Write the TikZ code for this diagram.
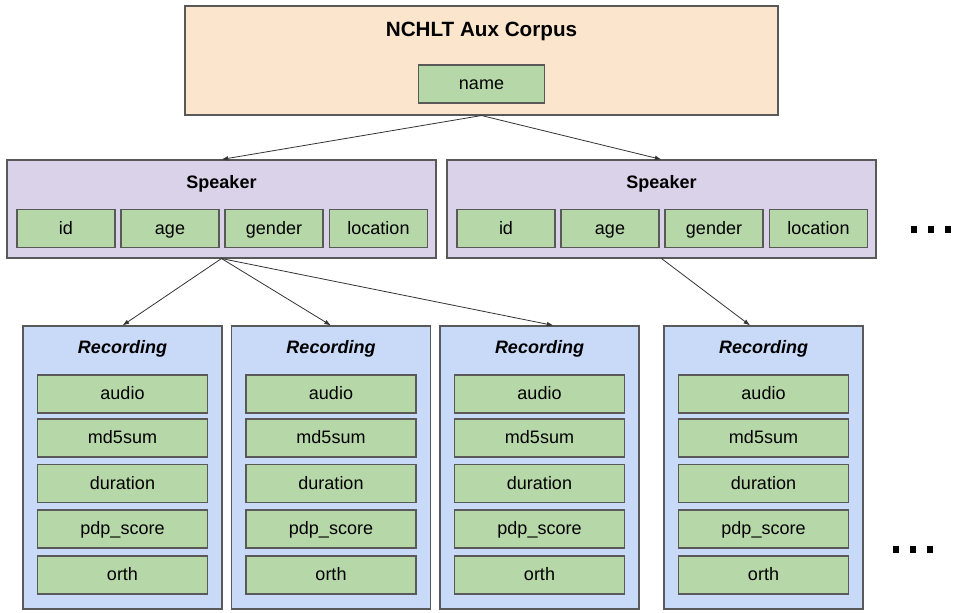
\documentclass[tikz,border=0pt]{standalone}
\usepackage{fontspec}
\setmainfont{Liberation Sans}
\usetikzlibrary{positioning,arrows.meta}
\definecolor{corpusfill}{HTML}{FCE5CD}
\definecolor{speakerfill}{HTML}{D9D2E9}
\definecolor{recfill}{HTML}{C9DAF8}
\definecolor{fieldfill}{HTML}{B6D7A8}
\definecolor{edgegray}{HTML}{595959}
\tikzset{>={Latex[length=5pt,width=3.5pt]}}
\tikzset{
  box/.style={draw=edgegray, line width=0.8pt, inner sep=0pt},
  corpus/.style={box, fill=corpusfill, minimum width=444.75pt, minimum height=81.75pt},
  speaker/.style={box, fill=speakerfill, minimum width=321.75pt, minimum height=73.5pt},
  recording/.style={box, fill=recfill, minimum width=149.25pt, minimum height=212.25pt},
  title/.style={font=\fontsize{13.5}{16}\selectfont\bfseries, text height=0.9em, text depth=0.05em},
  field/.style={box, fill=fieldfill, minimum height=28.5pt, font=\fontsize{13.5}{16}\selectfont,
    text height=0.9em, text depth=0.05em},
  dot/.style={fill=black, inner sep=0pt, minimum size=4.8pt},
  link/.style={->, draw=black!80, line width=0.6pt},
}

\begin{document}
\begin{tikzpicture}[x=0.75pt,y=-0.75pt]
  \useasboundingbox (0,0) rectangle (957,613);

  % Corpus
  \node[corpus] (corpus) at (481.5,60.5) {};
  \node[title, font=\fontsize{15.5}{18}\selectfont\bfseries] (corpustitle) at (481.5,31) {NCHLT Aux Corpus};
  \node[field, minimum width=95pt] (name) at (481.5,84) {name};

  % Speakers
  \foreach \s/\cx in {1/221.5, 2/661.5} {
    \node[speaker] (spk\s) at (\cx,209) {};
    \node[title] (spk\s-title) at (\cx,183) {Speaker};
    \node[field, minimum width=73.5pt] (spk\s-id)       at (\cx-155.5,228.5) {id};
    \node[field, minimum width=73.5pt] (spk\s-age)      at (\cx-51.5,228.5)  {age};
    \node[field, minimum width=73.5pt] (spk\s-gender)   at (\cx+52.5,228.5)  {gender};
    \node[field, minimum width=73.5pt] (spk\s-location) at (\cx+157,228.5)   {location};
  }

  % Recordings
  \foreach \r/\cx in {1/122.5, 2/331, 3/539.5, 4/763.5} {
    \node[recording] (rec\r) at (\cx,467.5) {};
    \node[title, font=\fontsize{13.5}{16}\selectfont\bfseries\itshape] (rec\r-title) at (\cx,348) {Recording};
    \foreach \f/\lab/\cy in {audio/audio/394, md5sum/md5sum/438, duration/duration/483.5,
                             pdp/pdp\_score/529, orth/orth/575} {
      \node[field, minimum width=127.5pt] (rec\r-\f) at (\cx,\cy) {\lab};
    }
  }

  % More
  \foreach \i/\x in {1/914, 2/931, 3/948}
    \node[dot] (more1-\i) at (\x,229.5) {};
  \foreach \i/\x in {1/896, 2/913, 3/930}
    \node[dot] (more2-\i) at (\x,549.5) {};

  % Edges
  \draw[link] (corpus.south) -- (spk1.north);
  \draw[link] (corpus.south) -- (spk2.north);
  \draw[link] (spk1.south) -- (rec1.north);
  \draw[link] (spk1.south) -- (rec2.north);
  \draw[link] (spk1.south) -- ([xshift=10.5pt]rec3.north);
  \draw[link] (spk2.south) -- ([xshift=-10pt]rec4.north);

\end{tikzpicture}
\end{document}
